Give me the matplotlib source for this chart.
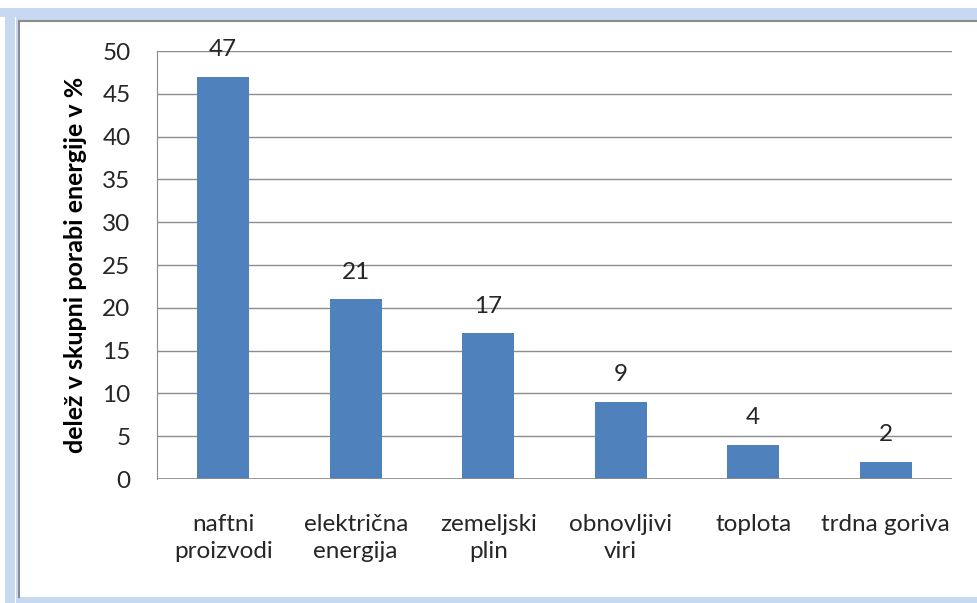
import matplotlib

matplotlib.use("Agg")
import matplotlib.pyplot as plt
from matplotlib.patches import Rectangle
from matplotlib.lines import Line2D

# Data
categories = [
    "naftni\nproizvodi",
    "električna\nenergija",
    "zemeljski\nplin",
    "obnovljivi\nviri",
    "toplota",
    "trdna goriva",
]
shares = [47, 21, 17, 9, 4, 2]
y_ticks = [0, 5, 10, 15, 20, 25, 30, 35, 40, 45, 50]

W, H = 978, 603
plt.rcParams["font.family"] = ["Lato", "DejaVu Sans"]

fig = plt.figure(figsize=(W / 100, H / 100), dpi=100)
fig.patch.set_facecolor("white")


def px(x, y, w, h):
    # pixel box (top-left origin) -> figure fraction rectangle
    return (x / W, 1 - (y + h) / H), w / W, h / H


# light blue frame around the chart
frame_blue = "#c6d9f0"
for box in [(0, 8, W, 9), (5, 8, 10, 595), (16, 17, W, 3), (16, 17, 3, 586), (16, 597, W, 6)]:
    xy, w, h = px(*box)
    fig.add_artist(Rectangle(xy, w, h, transform=fig.transFigure, color=frame_blue, lw=0))
fig.add_artist(Line2D([19.5 / W, 19.5 / W], [1 - 21 / H, 1 - 597 / H], transform=fig.transFigure, color="#8c8c8c", lw=1.5))
fig.add_artist(Line2D([19.5 / W, 1], [1 - 21 / H, 1 - 21 / H], transform=fig.transFigure, color="#8c8c8c", lw=1.5))

ax = fig.add_axes([157 / W, 1 - 479 / H, (952 - 157) / W, (479 - 51) / H])
x = range(len(categories))
bars = ax.bar(x, shares, width=0.39, color="#4f81bd", zorder=3)

ax.set_xlim(-0.5, len(categories) - 0.5)
ax.set_ylim(0, 50)
ax.set_yticks(y_ticks)
ax.set_xticks(list(x))
ax.set_xticklabels(categories, fontsize=17.5, color="#262626", linespacing=1.38)
ax.tick_params(axis="y", labelsize=17.5, labelcolor="#262626", length=0, pad=19)
ax.tick_params(axis="x", length=0, pad=25)

ax.grid(axis="y", color="#8c8c8c", lw=1, zorder=0)
for s in ["top", "right", "bottom"]:
    ax.spines[s].set_visible(False)
ax.spines["left"].set_color("#8c8c8c")
ax.axhline(0, color="#8c8c8c", lw=1.2, zorder=4)

for xi, v in zip(x, shares):
    ax.annotate(str(v), (xi, v), xytext=(0, 12), textcoords="offset points",
                ha="center", va="bottom", fontsize=17.5, color="#262626")

ax.set_ylabel("delež v skupni porabi energije v %", fontsize=18, fontweight="bold",
              color="#000000", labelpad=11)

fig.savefig("out.png", dpi=100)
